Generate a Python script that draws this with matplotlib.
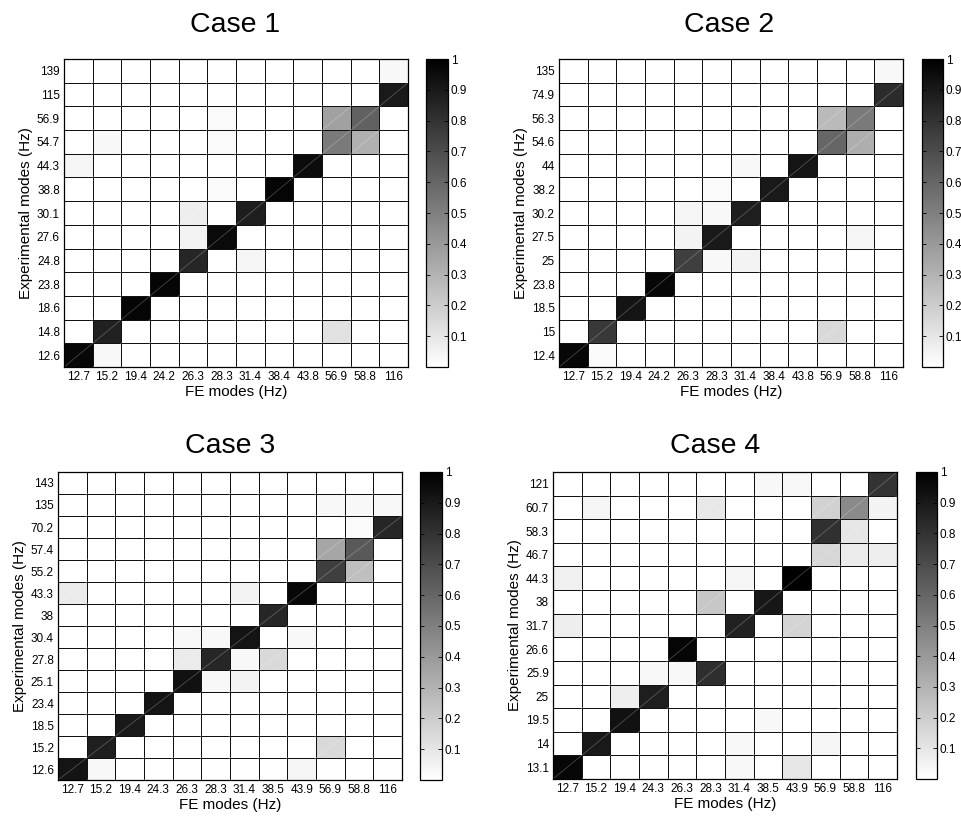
import numpy as np
import matplotlib
matplotlib.use('Agg')
import matplotlib.pyplot as plt
from matplotlib.collections import LineCollection

plt.rcParams['font.family'] = ['Liberation Sans', 'DejaVu Sans']

# ---------------- data (rows listed bottom -> top, columns left -> right) ----------------
case_titles = ['Case 1', 'Case 2', 'Case 3', 'Case 4']

fe_modes_1 = ['12.7', '15.2', '19.4', '24.2', '26.3', '28.3', '31.4', '38.4', '43.8', '56.9', '58.8', '116']
exp_modes_1 = ['12.6', '14.8', '18.6', '23.8', '24.8', '27.6', '30.1', '38.8', '44.3', '54.7', '56.9', '115', '139']
mac_1 = [
    [0.97, 0.03, 0, 0, 0, 0, 0, 0, 0, 0, 0, 0],
    [0, 0.87, 0, 0, 0, 0, 0, 0, 0, 0.12, 0, 0],
    [0, 0, 0.98, 0, 0, 0, 0, 0, 0, 0, 0, 0],
    [0, 0, 0, 0.98, 0, 0, 0, 0, 0, 0, 0, 0],
    [0, 0, 0, 0, 0.85, 0, 0.04, 0, 0, 0, 0, 0],
    [0, 0, 0, 0, 0.05, 0.96, 0, 0, 0, 0, 0, 0],
    [0, 0, 0, 0, 0.07, 0, 0.88, 0, 0, 0, 0, 0],
    [0, 0, 0, 0, 0, 0.02, 0, 0.98, 0, 0, 0, 0],
    [0.04, 0, 0, 0, 0, 0, 0, 0, 0.95, 0, 0, 0],
    [0, 0.03, 0, 0, 0, 0.02, 0, 0, 0, 0.52, 0.31, 0],
    [0, 0, 0, 0, 0, 0.02, 0, 0, 0, 0.37, 0.62, 0],
    [0, 0, 0, 0, 0, 0, 0, 0, 0, 0, 0, 0.90],
    [0, 0, 0, 0, 0, 0, 0, 0, 0, 0, 0, 0.03],
]

fe_modes_2 = ['12.7', '15.2', '19.4', '24.2', '26.3', '28.3', '31.4', '38.4', '43.8', '56.9', '58.8', '116']
exp_modes_2 = ['12.4', '15', '18.5', '23.8', '25', '27.5', '30.2', '38.2', '44', '54.6', '56.3', '74.9', '135']
mac_2 = [
    [0.97, 0.02, 0, 0, 0, 0, 0, 0, 0, 0, 0, 0],
    [0, 0.78, 0, 0, 0, 0, 0, 0, 0, 0.15, 0, 0],
    [0, 0, 0.92, 0, 0, 0, 0, 0, 0, 0, 0, 0],
    [0, 0, 0, 0.97, 0, 0, 0, 0, 0, 0, 0, 0],
    [0, 0, 0, 0, 0.75, 0.03, 0.05, 0, 0, 0, 0, 0],
    [0, 0, 0, 0, 0.05, 0.90, 0, 0, 0, 0, 0.04, 0],
    [0, 0, 0, 0, 0.04, 0.03, 0.88, 0, 0, 0, 0, 0],
    [0, 0, 0, 0, 0, 0.02, 0, 0.90, 0, 0, 0, 0],
    [0, 0, 0, 0, 0, 0, 0.03, 0, 0.92, 0, 0, 0],
    [0, 0, 0, 0, 0, 0, 0, 0, 0, 0.60, 0.32, 0],
    [0, 0, 0, 0, 0, 0, 0, 0, 0, 0.27, 0.52, 0],
    [0, 0, 0, 0, 0, 0, 0, 0, 0, 0, 0, 0.83],
    [0, 0, 0, 0, 0, 0, 0, 0, 0, 0, 0, 0.03],
]

fe_modes_3 = ['12.7', '15.2', '19.4', '24.3', '26.3', '28.3', '31.4', '38.5', '43.9', '56.9', '58.8', '116']
exp_modes_3 = ['12.6', '15.2', '18.5', '23.4', '25.1', '27.8', '30.4', '38', '43.3', '55.2', '57.4', '70.2', '135', '143']
mac_3 = [
    [0.92, 0.03, 0, 0, 0, 0, 0, 0, 0.04, 0, 0, 0],
    [0, 0.88, 0, 0, 0, 0, 0, 0, 0, 0.15, 0, 0],
    [0, 0, 0.90, 0, 0, 0, 0, 0, 0, 0, 0, 0],
    [0, 0, 0, 0.92, 0, 0, 0, 0, 0, 0, 0, 0],
    [0, 0, 0, 0, 0.93, 0.03, 0.05, 0, 0, 0, 0, 0],
    [0, 0, 0, 0, 0.08, 0.85, 0.03, 0.15, 0, 0, 0, 0],
    [0, 0, 0, 0, 0.03, 0.03, 0.92, 0, 0.03, 0, 0, 0],
    [0, 0, 0, 0, 0, 0, 0, 0.85, 0, 0, 0, 0],
    [0.08, 0, 0, 0, 0, 0, 0.05, 0, 0.97, 0, 0, 0],
    [0, 0, 0, 0, 0, 0, 0, 0, 0, 0.75, 0.25, 0],
    [0, 0, 0, 0, 0, 0, 0, 0, 0, 0.35, 0.65, 0],
    [0, 0, 0, 0, 0, 0, 0, 0, 0, 0, 0.02, 0.85],
    [0, 0, 0, 0, 0, 0, 0, 0, 0, 0.03, 0.03, 0.03],
    [0, 0, 0, 0, 0, 0, 0, 0, 0, 0, 0, 0],
]

fe_modes_4 = ['12.7', '15.2', '19.4', '24.3', '26.3', '28.3', '31.4', '38.5', '43.9', '56.9', '58.8', '116']
exp_modes_4 = ['13.1', '14', '19.5', '25', '25.9', '26.6', '31.7', '38', '44.3', '46.7', '58.3', '60.7', '121']
mac_4 = [
    [0.97, 0, 0, 0, 0, 0, 0.03, 0, 0.10, 0, 0, 0],
    [0, 0.90, 0, 0, 0, 0, 0.03, 0, 0, 0.04, 0, 0],
    [0, 0, 0.93, 0, 0, 0, 0, 0.03, 0, 0, 0, 0],
    [0, 0, 0.07, 0.88, 0, 0, 0, 0, 0, 0, 0, 0],
    [0, 0, 0, 0.03, 0.03, 0.82, 0, 0, 0, 0, 0, 0],
    [0, 0, 0, 0, 0.98, 0, 0, 0, 0, 0, 0, 0],
    [0.07, 0, 0, 0, 0, 0, 0.87, 0, 0.17, 0, 0, 0],
    [0, 0, 0, 0, 0, 0.22, 0, 0.91, 0, 0, 0, 0],
    [0.06, 0, 0, 0, 0, 0, 0.04, 0, 1.00, 0, 0, 0],
    [0, 0, 0, 0, 0, 0, 0, 0, 0, 0.16, 0.08, 0.07],
    [0, 0, 0, 0, 0, 0, 0, 0, 0, 0.81, 0.10, 0],
    [0, 0.04, 0, 0, 0, 0.09, 0, 0, 0, 0.18, 0.46, 0.05],
    [0, 0, 0, 0, 0, 0, 0, 0.03, 0.03, 0, 0, 0.80],
]

cbar_ticks = [0.1, 0.2, 0.3, 0.4, 0.5, 0.6, 0.7, 0.8, 0.9, 1.0]
cbar_labels = ['0.1', '0.2', '0.3', '0.4', '0.5', '0.6', '0.7', '0.8', '0.9', '1']

# ---------------- layout (pixels, figure 962 x 819) ----------------
W, H = 962, 819
fig = plt.figure(figsize=(W / 100, H / 100), dpi=100)

def fbox(x0, y0, x1, y1):
    return [x0 / W, 1 - y1 / H, (x1 - x0) / W, (y1 - y0) / H]

panels = [
    dict(ax=(64, 59, 408, 367), cb=(426, 59, 448, 367), title=(235, 32)),
    dict(ax=(559, 59, 903, 367), cb=(922, 59, 943, 367), title=(729, 32)),
    dict(ax=(58, 472, 402, 780), cb=(420, 472, 442, 780), title=(230, 453)),
    dict(ax=(553, 472, 897, 779), cb=(916, 472, 937, 779), title=(715, 453)),
]
datasets = [
    (fe_modes_1, exp_modes_1, mac_1),
    (fe_modes_2, exp_modes_2, mac_2),
    (fe_modes_3, exp_modes_3, mac_3),
    (fe_modes_4, exp_modes_4, mac_4),
]

for p, (fe, ex, mac), title in zip(panels, datasets, case_titles):
    M = np.array(mac, dtype=float)
    nr, nc = M.shape
    ax = fig.add_axes(fbox(*p['ax']))
    mesh = ax.pcolormesh(np.arange(nc + 1), np.arange(nr + 1), M, cmap='gray_r',
                         vmin=0, vmax=1, edgecolors='#111111', linewidth=0.62)
    # rendering seams across each cell (bottom-left to top-right)
    segs = [[(j, i), (j + 1, i + 1)] for i in range(nr) for j in range(nc)]
    ax.add_collection(LineCollection(segs, colors='white', alpha=0.3, linewidths=0.5))
    ax.set_xlim(0, nc)
    ax.set_ylim(0, nr)
    ax.set_xticks(np.arange(nc) + 0.5)
    ax.set_xticklabels(fe)
    ax.set_yticks(np.arange(nr) + 0.5)
    ax.set_yticklabels(ex)
    ax.tick_params(length=0, labelsize=8.5, pad=3)
    for s in ax.spines.values():
        s.set_linewidth(0.9)
        s.set_color('black')
    ax.set_xlabel('FE modes (Hz)', fontsize=11, labelpad=1)
    ax.set_ylabel('Experimental modes (Hz)', fontsize=11, labelpad=3)

    cax = fig.add_axes(fbox(*p['cb']))
    cb = fig.colorbar(mesh, cax=cax, ticks=cbar_ticks)
    cb.ax.set_yticklabels(cbar_labels)
    cb.outline.set_linewidth(0.9)
    cb.outline.set_edgecolor('black')
    cax.tick_params(direction='in', length=3, width=0.6, left=True, right=True,
                    labelsize=8.5, pad=2, colors='black')

    tx, ty = p['title']
    fig.text(tx / W, 1 - ty / H, title, fontsize=20.5, ha='center', va='baseline')

fig.savefig('out.png', dpi=100, facecolor='white')
